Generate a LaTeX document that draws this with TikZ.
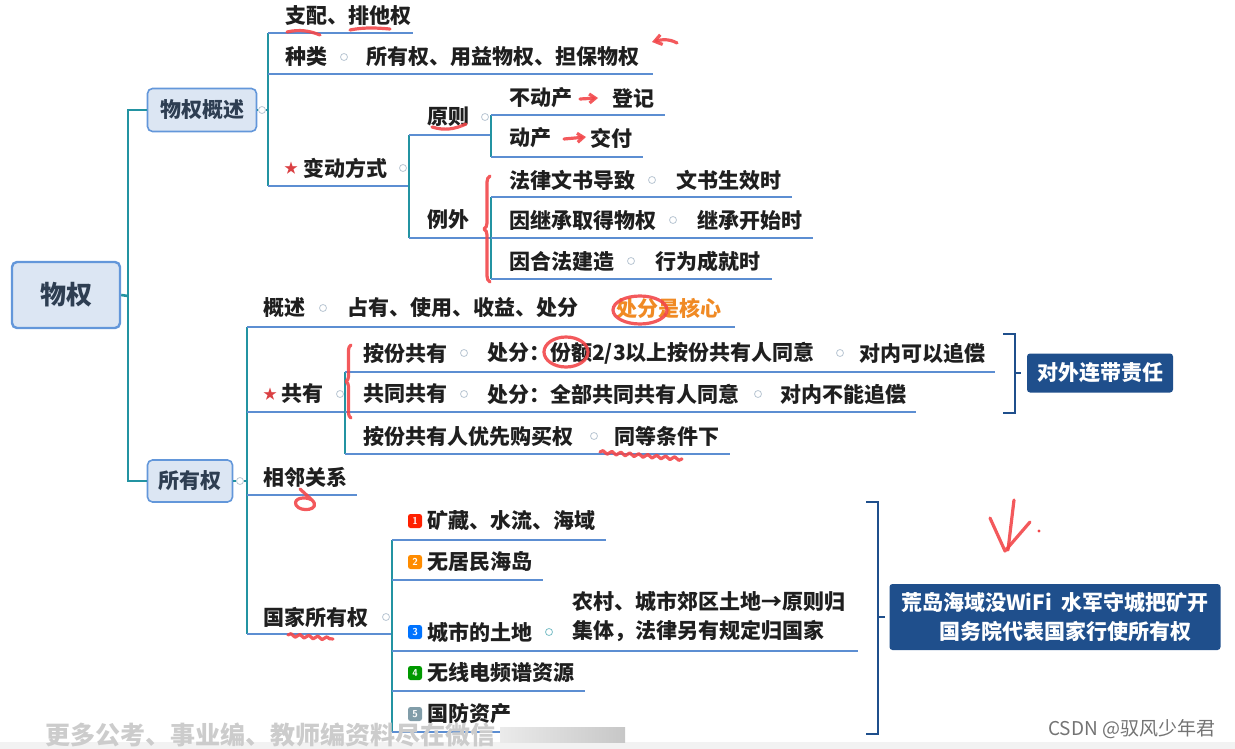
\documentclass[tikz,border=0pt]{standalone}
\usepackage{fontspec}
\setmainfont{Noto Sans CJK SC}
\usetikzlibrary{arrows.meta,decorations.pathmorphing,decorations.pathreplacing}
\definecolor{spinec}{HTML}{2393A2}
\definecolor{ulc}{HTML}{5C8ED2}
\definecolor{boxfill}{HTML}{DCE6F3}
\definecolor{boxline}{HTML}{6397DA}
\definecolor{boxtext}{HTML}{2E3E52}
\definecolor{ink}{HTML}{1F1F1F}
\definecolor{navy}{HTML}{1F4F8C}
\definecolor{penc}{HTML}{F2474A}
\definecolor{corec}{HTML}{F08A24}
\definecolor{foldc}{HTML}{B9C6D3}
\begin{document}
\begin{tikzpicture}[x=1pt, y=-1pt,
  every node/.style={inner sep=0pt, text=ink, font=\bfseries\fontsize{21}{25}\selectfont},
  txt/.style={anchor=west},
  box/.style={draw=boxline, fill=boxfill, rounded corners=5pt, line width=1.6pt, text=boxtext},
  tag/.style={fill=navy, rounded corners=3pt, text=white, align=center},
  fold/.style={circle, draw=foldc, line width=0.8pt, minimum size=7pt},
  hot/.style={text=penc!90!black, font=\fontsize{14}{14}\selectfont},
  num/.style={fill=#1, rounded corners=2.5pt, minimum size=14pt, text=white, font=\sffamily\bfseries\fontsize{10}{10}\selectfont},
  spine/.style={draw=spinec, line width=2.6pt},
  uline/.style={draw=ulc, line width=2pt},
  bracket/.style={draw=navy, line width=2.6pt},
  pen/.style={draw=penc, line width=3.2pt, line cap=round, line join=round, opacity=0.9},
  wavy/.style={pen, decorate, decoration={snake, amplitude=1.6pt, segment length=9pt}}]
\useasboundingbox (0,0) rectangle (1235,749);
\fill[black!5] (0,742) rectangle (1235,749);

% root and the two main branches
\node[box, minimum width=108pt, minimum height=66pt, line width=2.4pt, font=\bfseries\fontsize{26}{30}\selectfont] (wq) at (66,295) {物权};
\node[box, minimum width=109pt, minimum height=43pt] (gs) at (202,110) {物权概述};
\node[box, minimum width=85pt, minimum height=42pt] (sy) at (190,481) {所有权};
\coordinate (k0) at (128,296);
\draw[spine] (wq.east) -- (k0);
\draw[spine] (gs.west) -| (k0) |- (sy.west);

% 物权概述
\node[fold] (f1) at (262,110) {};
\draw[spine] (gs.east) -- (f1) -- (268,110);
\draw[spine] (268,33) -- (268,186);
\node[txt] (zp) at (285,16) {支配、排他权};
\draw[uline] (268,33) -- (413,33);
\node[txt] (zl) at (285,57) {种类};
\node[fold] (f2) at (344,57) {};
\node[txt] (zl2) at (366,57) {所有权、用益物权、担保物权};
\draw[uline] (268,74) -- (653,74);
\node[hot] (x1) at (291,168) {★};
\node[txt] (bd) at (303,168) {变动方式};
\node[fold] (f3) at (403,168) {};
\draw[uline] (268,186) -- (409,186);
\draw[spine] (409,135) -- (409,238);
\node[txt] (yz) at (427,117) {原则};
\node[fold] (f4) at (485,117) {};
\draw[uline] (409,135) -- (491,135);
\node[txt] (lw) at (427,220) {例外};
\draw[uline] (409,238) -- (491,238);
\draw[spine] (491,115) -- (491,157);
\node[txt] (bdc) at (509,98) {不动产};
\node[txt] (dj) at (612,98) {登记};
\draw[uline] (491,115) -- (665,115);
\node[txt] (dc) at (509,138) {动产};
\node[txt] (jf) at (590,138) {交付};
\draw[uline] (491,157) -- (643,157);
\draw[spine] (491,197) -- (491,279);
\node[txt] (l1) at (509,180) {法律文书导致};
\node[fold] (f5) at (652,180) {};
\node[txt] (l1b) at (676,180) {文书生效时};
\draw[uline] (491,197) -- (792,197);
\node[txt] (l2) at (509,220) {因继承取得物权};
\node[fold] (f6) at (673,220) {};
\node[txt] (l2b) at (697,220) {继承开始时};
\draw[uline] (491,238) -- (813,238);
\node[txt] (l3) at (509,261) {因合法建造};
\node[fold] (f7) at (631,261) {};
\node[txt] (l3b) at (655,261) {行为成就时};
\draw[uline] (491,279) -- (772,279);

% 所有权
\node[fold] (f8) at (240,481) {};
\draw[spine] (sy.east) -- (f8) -- (247,481);
\draw[spine] (247,327) -- (247,634);
\node[txt] (gs2) at (263,308) {概述};
\node[fold] (f9) at (323,308) {};
\node[txt] (zy) at (347,308) {占有、使用、收益、处分};
\node[txt, text=corec] (hx) at (616,308) {处分是核心};
\draw[uline] (247,327) -- (735,327);
\node[hot] (x2) at (270,394) {★};
\node[txt] (gy) at (281,394) {共有};
\node[fold] (f10) at (340,394) {};
\draw[uline] (247,412) -- (345,412);
\draw[spine] (345,372) -- (345,454);
\node[txt] (af) at (363,353) {按份共有};
\node[fold] (f11) at (464,353) {};
\node[txt] (af2) at (487,353) {处分：份额2/3以上按份共有人同意};
\node[fold] (f12) at (840,353) {};
\node[txt] (af3) at (859,353) {对内可以追偿};
\draw[uline] (345,372) -- (995,372);
\node[txt] (gt) at (363,394) {共同共有};
\node[fold] (f13) at (464,394) {};
\node[txt] (gt2) at (487,394) {处分：全部共同共有人同意};
\node[fold] (f14) at (758,394) {};
\node[txt] (gt3) at (780,394) {对内不能追偿};
\draw[uline] (345,412) -- (916,412);
\node[txt] (yx) at (363,436) {按份共有人优先购买权};
\node[fold] (f15) at (594,436) {};
\node[txt] (yx2) at (614,436) {同等条件下};
\draw[uline] (345,454) -- (730,454);
\node[tag, minimum width=146pt, minimum height=39pt] (lz) at (1100,373) {对外连带责任};
\draw[bracket] (1003,334) -- (1015,334) -- (1015,413) -- (1003,413);
\draw[bracket] (1015,373) -- ([xshift=-6pt]lz.west);
\node[txt] (xl) at (263,477) {相邻关系};
\draw[uline] (247,495) -- (357,495);
\node[txt] (gj) at (263,617) {国家所有权};
\node[fold] (f16) at (386,617) {};
\draw[uline] (247,634) -- (392,634);
\draw[spine] (392,540) -- (392,732);
\node[num=red!75!orange] (n1) at (415,521) {1};
\node[txt] (g1) at (427,521) {矿藏、水流、海域};
\draw[uline] (392,540) -- (606,540);
\node[num=orange!90!yellow] (n2) at (415,562) {2};
\node[txt] (g2) at (427,562) {无居民海岛};
\draw[uline] (392,580) -- (543,580);
\node[num=blue!55!cyan] (n3) at (415,632) {3};
\node[txt] (g3) at (427,632) {城市的土地};
\node[fold, draw=spinec!60] (f17) at (549,632) {};
\node[txt, align=left, font=\bfseries\fontsize{21}{29}\selectfont] (g3b) at (572,617) {农村、城市郊区土地→原则归\\集体，法律另有规定归国家};
\draw[uline] (392,651) -- (858,651);
\node[num=green!60!black] (n4) at (415,673) {4};
\node[txt] (g4) at (427,673) {无线电频谱资源};
\draw[uline] (392,691) -- (585,691);
\node[num=cyan!25!gray] (n5) at (415,714) {5};
\node[txt] (g5) at (427,714) {国防资产};
\draw[uline] (392,732) -- (520,732);
\node[tag, minimum width=331pt, minimum height=66pt, font=\bfseries\fontsize{21}{29}\selectfont] (kj) at (1055,617) {荒岛海域没WiFi\ \ 水军守城把矿开\\\hspace*{1em}国务院代表国家行使所有权};
\draw[bracket] (866,502) -- (878,502) -- (878,734) -- (866,734);
\draw[bracket] (878,617) -- ([xshift=-4pt]kj.west);

% pen marks
\draw[pen] (287,32) .. controls (300,29) and (310,31) .. (320,35);
\draw[pen] (350,30) .. controls (365,27) and (378,28) .. (390,29);
\draw[pen, -{Straight Barb[length=7pt,width=10pt]}] (677,43) .. controls (668,38) and (660,40) .. (652,42);
\draw[pen, -{Straight Barb[length=6pt,width=9pt]}] (580,99) -- (598,98);
\draw[pen, -{Straight Barb[length=6pt,width=9pt]}] (564,139) -- (586,137);
\draw[pen] (432,127) .. controls (445,131) and (455,129) .. (466,124);
\draw[pen, decorate, decoration={brace, amplitude=6pt}] (490,282) -- (490,176);
\draw[pen, decorate, decoration={brace, amplitude=5pt}] (351,418) -- (351,345);
\draw[pen] (640,310) ellipse [x radius=27pt, y radius=14pt];
\draw[pen] (566,352) ellipse [x radius=22pt, y radius=15pt];
\draw[wavy] (600,452) -- (682,459);
\draw[pen] (300,489) -- (312,500) .. controls (322,510) and (300,513) .. (296,505) .. controls (293,498) and (305,496) .. (312,500);
\draw[wavy] (288,635) -- (333,639);
\draw[pen] (1014,500) -- (1008,550);
\draw[pen] (990,518) -- (1005,551) -- (1030,522);
\fill[penc] (1039,531) circle (1.6pt);

% page marks
\node[txt, text=black!20, font=\bfseries\fontsize{25}{27}\selectfont] (wm) at (45,735) {更多公考、事业编、教师编资料尽在微信};
\shade[left color=black!8, right color=black!22] (500,727) rectangle (625,742);
\node[txt, text=black!55, font=\fontsize{19}{21}\selectfont] (cs) at (1048,729) {CSDN @驭风少年君};
\end{tikzpicture}
\end{document}
